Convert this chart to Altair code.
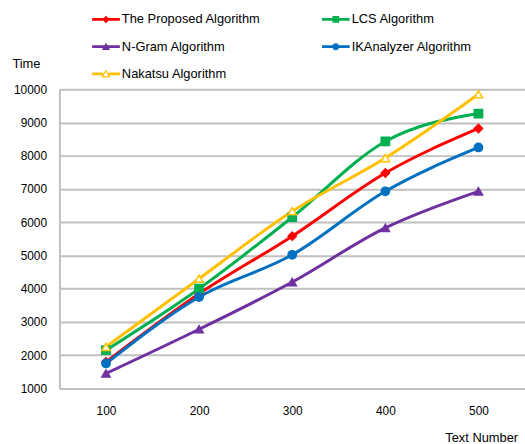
import altair as alt
import pandas as pd

series = ["The Proposed Algorithm", "LCS Algorithm", "N-Gram Algorithm",
          "IKAnalyzer Algorithm", "Nakatsu Algorithm"]
text_numbers = ["100", "200", "300", "400", "500"]
proposed = [1800, 3850, 5580, 7480, 8820]
lcs = [2150, 4000, 6150, 8430, 9270]
ngram = [1450, 2780, 4200, 5830, 6930]
ikanalyzer = [1750, 3750, 5020, 6930, 8250]
nakatsu = [2250, 4300, 6330, 7930, 9850]
y_ticks = [1000, 2000, 3000, 4000, 5000, 6000, 7000, 8000, 9000, 10000]

colors = ["#FF0000", "#00B050", "#7030A0", "#0070C0", "#FFC000"]
fills = ["#FF0000", "#00B050", "#7030A0", "#0070C0", "#FFFFFF"]
shapes = ["diamond", "square", "triangle-up", "circle", "triangle-up"]

bar = "M-1,-0.1H1V0.1H-1Z"
legend_paths = [
    bar + "M0,-0.27L0.27,0L0,0.27L-0.27,0Z",
    bar + "M-0.24,-0.24H0.24V0.24H-0.24Z",
    bar + "M0,-0.28L0.3,0.24H-0.3Z",
    bar + "M-0.25,0A0.25,0.25 0 1,1 0.25,0A0.25,0.25 0 1,1 -0.25,0Z",
    "M-1,-0.1H-0.2V0.1H-1ZM0.2,-0.1H1V0.1H0.2Z"
    "M0,-0.32L0.34,0.26H-0.34ZM0,-0.15L-0.19,0.17H0.19Z",
]

rows = []
for name, vals in zip(series, [proposed, lcs, ngram, ikanalyzer, nakatsu]):
    for t, v in zip(text_numbers, vals):
        rows.append({"Series": name, "TextNumber": t, "Time": v})
df = pd.DataFrame(rows)

x_enc = alt.X("TextNumber:N", sort=text_numbers,
              scale=alt.Scale(type="point", padding=0.5),
              axis=alt.Axis(title="Text Number", labelAngle=0, labelFontSize=12,
                            labelColor="#000000", ticks=False, domain=False,
                            labelPadding=17, grid=False,
                            titleFontSize=13, titleFontWeight="normal",
                            titleColor="#000000", titleAngle=0,
                            titleAlign="left", titleBaseline="middle",
                            titleX=389, titleY=50))
y_enc = alt.Y("Time:Q",
              scale=alt.Scale(domain=[1000, 10000], nice=False, zero=False),
              axis=alt.Axis(title="Time", values=y_ticks, format="d", labelFontSize=12,
                            labelColor="#000000", ticks=False, labelPadding=13,
                            domainColor="#C0C0C0", domainWidth=2,
                            gridColor="#C0C0C0", gridWidth=2,
                            titleFontSize=13, titleFontWeight="normal",
                            titleColor="#000000", titleAngle=0,
                            titleAlign="left", titleBaseline="middle",
                            titleX=-48, titleY=-26))

stroke_scale = alt.Scale(domain=series, range=colors)

lines = alt.Chart(df).mark_line(strokeWidth=3, interpolate="monotone").encode(
    x=x_enc, y=y_enc,
    stroke=alt.Stroke("Series:N", scale=stroke_scale, legend=None),
    detail="Series:N",
)

points = alt.Chart(df).mark_point(filled=False, size=70, strokeWidth=1.5, opacity=1).encode(
    x=x_enc, y=y_enc,
    stroke=alt.Stroke("Series:N", scale=stroke_scale, legend=None),
    fill=alt.Fill("Series:N", scale=alt.Scale(domain=series, range=fills), legend=None),
    shape=alt.Shape("Series:N", scale=alt.Scale(domain=series, range=shapes), legend=None),
)

legend_layer = alt.Chart(df).transform_filter("false").mark_point(filled=True, opacity=1).encode(
    color=alt.Color("Series:N", scale=alt.Scale(domain=series, range=colors),
                    legend=alt.Legend(title=None, orient="none", legendX=33, legendY=-84.5,
                                      direction="horizontal",
                                      columns=2, columnPadding=61, rowPadding=6.5,
                                      symbolSize=784, symbolStrokeWidth=0,
                                      labelFontSize=13, labelColor="#000000",
                                      labelOffset=2, labelLimit=300, padding=0,
                                      symbolOpacity=1)),
    shape=alt.Shape("Series:N", scale=alt.Scale(domain=series, range=legend_paths)),
)

chart = alt.layer(lines, points, legend_layer).resolve_scale(
    shape="independent", color="independent"
).properties(
    width=470, height=302,
    padding={"left": 60, "top": 88, "right": 0, "bottom": 54},
    autosize=alt.AutoSizeParams(type="none"),
).configure_view(stroke=None).configure(
    font="Liberation Sans"
).configure_axis(labelFont="Liberation Sans", titleFont="Liberation Sans"
).configure_legend(labelFont="Liberation Sans")

chart.save("out.html", embed_options={"renderer": "svg", "actions": False})
